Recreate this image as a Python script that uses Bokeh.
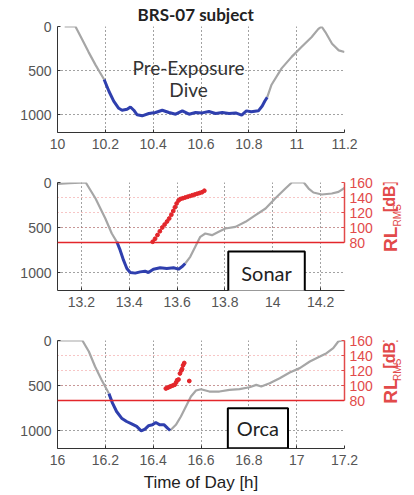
import math
from bokeh.plotting import figure
from bokeh.models import Range1d, LinearAxis, FixedTicker, Grid, Span, Label
from bokeh.layouts import column, row
from bokeh.core.properties import value
from bokeh.embed import file_html
from bokeh.resources import INLINE

# ---------------- data ----------------
depth_ticks = [0, 500, 1000]
depth_labels = ["0", "500", "1000"]
db_ticks = [80, 100, 120, 140, 160]
db_grid = [100, 120, 140, 160]
db_threshold = 80

x1_ticks = [10.0, 10.2, 10.4, 10.6, 10.8, 11.0, 11.2]
x1_labels = ["10", "10.2", "10.4", "10.6", "10.8", "11", "11.2"]
x2_ticks = [13.2, 13.4, 13.6, 13.8, 14.0, 14.2]
x2_labels = ["13.2", "13.4", "13.6", "13.8", "14", "14.2"]
x3_ticks = [16.0, 16.2, 16.4, 16.6, 16.8, 17.0, 17.2]
x3_labels = ["16", "16.2", "16.4", "16.6", "16.8", "17", "17.2"]

# Panel 1: pre-exposure dive
pre1_t = [10.03, 10.075, 10.10, 10.13, 10.16, 10.195]
pre1_d = [0, 0, 130, 290, 440, 600]
blue1_t = [10.195, 10.215, 10.235, 10.256, 10.27, 10.291, 10.305, 10.319, 10.333,
           10.354, 10.382, 10.41, 10.438, 10.466, 10.494, 10.522, 10.55, 10.577,
           10.605, 10.633, 10.661, 10.689, 10.717, 10.745, 10.77, 10.79, 10.81,
           10.84, 10.856, 10.867, 10.877]
blue1_d = [600, 733, 844, 926, 948, 937, 911, 948, 1000, 1011, 985, 974, 948, 974,
           993, 955, 993, 974, 978, 963, 985, 974, 985, 978, 1004, 955, 966, 955,
           900, 844, 800]
post1_t = [10.877, 10.895, 10.937, 10.979, 11.02, 11.062, 11.09, 11.104, 11.12,
           11.148, 11.176, 11.2]
post1_d = [800, 659, 474, 344, 233, 122, 30, 0, 63, 196, 270, 289]

# Panel 2: sonar exposure
pre2_t = [13.1, 13.15, 13.218, 13.259, 13.30, 13.327, 13.348]
pre2_d = [15, 8, 0, 178, 400, 567, 659]
blue2_t = [13.348, 13.362, 13.376, 13.39, 13.404, 13.425, 13.446, 13.466, 13.48,
           13.501, 13.529, 13.557, 13.585, 13.606, 13.62, 13.634]
blue2_d = [659, 752, 863, 955, 1000, 1007, 993, 985, 1000, 963, 948, 955, 948, 963,
           937, 900]
post2_t = [13.634, 13.655, 13.676, 13.697, 13.718, 13.746, 13.774, 13.802, 13.844,
           13.886, 13.928, 13.97, 14.01, 14.053, 14.08, 14.13, 14.15, 14.17, 14.205,
           14.247, 14.275, 14.3]
post2_d = [900, 826, 715, 604, 567, 585, 548, 511, 493, 437, 363, 289, 178, 67, 0, 0,
           67, 111, 133, 122, 104, 60]
sonar_t = [13.498, 13.508, 13.518, 13.528, 13.538, 13.548, 13.558, 13.567, 13.576,
           13.584, 13.591, 13.598, 13.606, 13.614, 13.624, 13.634, 13.644, 13.654,
           13.664, 13.674, 13.684, 13.694, 13.704, 13.714]
sonar_db = [81, 85, 90, 95, 100, 104, 108, 112, 117, 122, 127, 132, 136, 138, 139,
            140, 141, 142, 143, 144, 145, 146, 147, 149]

# Panel 3: orca exposure
pre3_t = [16.0, 16.104, 16.131, 16.157, 16.184, 16.215]
pre3_d = [0, 0, 122, 289, 437, 590]
blue3_t = [16.215, 16.23, 16.247, 16.268, 16.289, 16.31, 16.331, 16.35, 16.366,
           16.38, 16.397, 16.411, 16.428, 16.446, 16.46, 16.471]
blue3_d = [590, 696, 789, 863, 900, 926, 955, 1004, 985, 948, 937, 911, 937, 937,
           974, 1000]
post3_t = [16.471, 16.495, 16.516, 16.537, 16.558, 16.579, 16.6, 16.635, 16.677,
           16.719, 16.761, 16.803, 16.831, 16.852, 16.887, 16.929, 16.971, 17.013,
           17.055, 17.097, 17.125, 17.153, 17.174, 17.188, 17.2]
post3_d = [1000, 937, 844, 733, 622, 556, 541, 567, 567, 548, 541, 519, 493, 511,
           474, 419, 356, 307, 233, 178, 141, 85, 11, 0, 0]
orca_t = [16.453, 16.460, 16.467, 16.474, 16.482, 16.490, 16.496, 16.500, 16.506,
          16.512, 16.518, 16.521, 16.525, 16.530, 16.551]
orca_db = [96, 97, 98, 99, 100, 101, 104, 107, 108, 116, 120, 122, 127, 130, 106]

rl_texts = ["RL", "RMS", "[dB]"]

# ---------------- style ----------------
GRAY = "#a6a6a6"
BLUE = "#2f3fae"
RED = "#e3262b"
RED_AX = "#e24a4a"
RED_GRID = "#ef8c8c"
TICK_FONT = "Liberation Sans"


def panel(width, right, height, top, bottom, xr, xt, xl):
    p = figure(width=width, height=height, output_backend="svg", toolbar_location=None,
               x_range=Range1d(*xr), y_range=Range1d(1200, 0),
               min_border_left=57, min_border_right=right,
               min_border_top=top, min_border_bottom=bottom)
    p.outline_line_color = None
    p.background_fill_color = "white"
    p.border_fill_color = "white"
    p.xaxis.ticker = FixedTicker(ticks=xt)
    p.xaxis.major_label_overrides = dict(zip(xt, xl))
    p.yaxis.ticker = FixedTicker(ticks=depth_ticks)
    p.yaxis.major_label_overrides = dict(zip(depth_ticks, depth_labels))
    for ax in (p.xaxis[0], p.yaxis[0]):
        ax.axis_line_color = "#333333"
        ax.axis_line_width = 1
        ax.major_tick_in = 3
        ax.major_tick_out = 0
        ax.major_tick_line_color = "#333333"
        ax.minor_tick_line_color = None
        ax.major_label_text_font = TICK_FONT
        ax.major_label_text_font_size = "14px"
        ax.major_label_text_color = "#555555"
        ax.major_label_standoff = 6
    p.grid.grid_line_color = "#444444"
    p.grid.grid_line_dash = "1 3"
    p.grid.grid_line_width = 1
    return p


def add_db(p):
    p.extra_y_ranges = {"db": Range1d(16, 160)}
    g = Grid(dimension=1, ticker=FixedTicker(ticks=db_grid), y_range_name="db",
             grid_line_color=RED_GRID, grid_line_dash="1 3", grid_line_width=1)
    p.add_layout(g)
    p.add_layout(Span(location=db_threshold, dimension="width", y_range_name="db",
                      line_color=RED, line_width=1.5))
    ax = LinearAxis(y_range_name="db", bounds=(80, 160),
                    ticker=FixedTicker(ticks=db_ticks))
    ax.axis_line_color = RED_AX
    ax.axis_line_width = 1.5
    ax.major_tick_in = 3
    ax.major_tick_out = 0
    ax.major_tick_line_color = RED_AX
    ax.minor_tick_line_color = None
    ax.major_label_text_font = TICK_FONT
    ax.major_label_text_font_size = "14px"
    ax.major_label_text_color = RED_AX
    ax.major_label_standoff = 5
    p.add_layout(ax, "right")


def side(height, base):
    s = figure(width=36, height=height, output_backend="svg", toolbar_location=None,
               x_range=Range1d(0, 36), y_range=Range1d(0, height),
               x_axis_location=None, y_axis_location=None,
               min_border_left=0, min_border_right=0, min_border_top=0,
               min_border_bottom=0)
    s.outline_line_color = None
    s.grid.visible = False
    s.background_fill_color = "white"
    s.border_fill_color = "white"
    xs = [12, 19, 11]
    ys = [base + 47, base + 82, base + 110]
    sizes = ["19px", "10px", "16px"]
    styles = ["bold", "normal", "bold"]
    for x, y, t, fs, st in zip(xs, ys, rl_texts, sizes, styles):
        s.text(x=[x], y=[y], text=[t], angle=math.pi / 2, text_align="center",
               text_baseline="middle", text_font=value(TICK_FONT),
               text_font_size=fs, text_font_style=st, text_color=RED_AX)
    return s


def depth_lines(p, t0, d0, tb, db, t1, d1):
    p.line(t0, d0, line_color=GRAY, line_width=2.2)
    p.line(t1, d1, line_color=GRAY, line_width=2.2)
    p.line(tb, db, line_color=BLUE, line_width=3)


# Panel 1
p1 = panel(414, 70, 160, 24, 28, (10.0, 11.2), x1_ticks, x1_labels)
p1.title.text = "BRS-07 subject"
p1.title.align = "left"
p1.title.offset = 80
p1.title.standoff = 3
p1.title.text_font = "Lato"
p1.title.text_font_size = "17px"
p1.title.text_font_style = "bold"
p1.title.text_color = "#222222"
depth_lines(p1, pre1_t, pre1_d, blue1_t, blue1_d, post1_t, post1_d)
p1.add_layout(Label(x=10.548, y=467, text="Pre-Exposure", text_align="center",
                    text_baseline="middle", text_font="Lato", text_font_size="19px",
                    text_color="#333333"))
p1.add_layout(Label(x=10.548, y=711, text="Dive", text_align="center",
                    text_baseline="middle", text_font="Lato", text_font_size="19px",
                    text_color="#333333"))

# Panel 2
p2 = panel(378, 34, 158, 22, 28, (13.1, 14.3), x2_ticks, x2_labels)
add_db(p2)
depth_lines(p2, pre2_t, pre2_d, blue2_t, blue2_d, post2_t, post2_d)
p2.scatter(sonar_t, sonar_db, y_range_name="db", size=3.8, color=RED, marker="circle")
p2.add_layout(Label(x=13.974, y=1000, text="Sonar", text_align="center",
                    text_baseline="middle", text_font="Lato", text_font_size="20px",
                    text_color="#222222", background_fill_color="white",
                    border_line_color="black", border_line_width=2, padding=(13, 9)))
s2 = side(158, 28)

# Panel 3
p3 = panel(378, 34, 177, 22, 47, (16.0, 17.2), x3_ticks, x3_labels)
add_db(p3)
depth_lines(p3, pre3_t, pre3_d, blue3_t, blue3_d, post3_t, post3_d)
p3.scatter(orca_t, orca_db, y_range_name="db", size=3.8, color=RED, marker="circle")
p3.add_layout(Label(x=16.838, y=975, text="Orca", text_align="center",
                    text_baseline="middle", text_font="Lato", text_font_size="20px",
                    text_color="#222222", background_fill_color="white",
                    border_line_color="black", border_line_width=2, padding=(9, 8)))
p3.xaxis.axis_label = "Time of Day [h]"
p3.xaxis.axis_label_text_font = TICK_FONT
p3.xaxis.axis_label_text_font_size = "17px"
p3.xaxis.axis_label_text_font_style = "normal"
p3.xaxis.axis_label_text_color = "#222222"
p3.xaxis.axis_label_standoff = 5
s3 = side(177, 47)

layout = column(p1, row(p2, s2), row(p3, s3))
open("out.html", "w").write(file_html(layout, INLINE))
